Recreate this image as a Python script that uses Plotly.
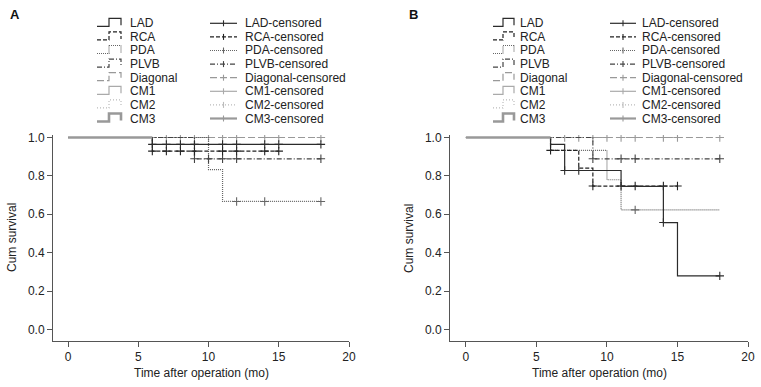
import plotly.graph_objects as go

W, H = 761, 387

# ---------------- data ----------------
groups = ["LAD", "RCA", "PDA", "PLVB", "Diagonal", "CM1", "CM2", "CM3"]
x_ticks = [0, 5, 10, 15, 20]
y_ticks = [0.0, 0.2, 0.4, 0.6, 0.8, 1.0]
x_title = "Time after operation (mo)"
y_title = "Cum survival"
panel_labels = ["A", "B"]

# Panel A  (time of each step, survival after step, censor times)
A_LAD_time = [0, 6, 18]
A_LAD_surv = [1.0, 0.964, 0.964]
A_LAD_cens = [6, 7, 8, 9, 11, 12, 14, 15, 18]
A_RCA_time = [0, 6, 15]
A_RCA_surv = [1.0, 0.929, 0.929]
A_RCA_cens = [6, 7, 8, 9, 11, 12, 14, 15]
A_PDA_time = [0, 10, 11, 18]
A_PDA_surv = [1.0, 0.833, 0.667, 0.667]
A_PDA_cens = [12, 14, 18]
A_PLVB_time = [0, 9, 18]
A_PLVB_surv = [1.0, 0.889, 0.889]
A_PLVB_cens = [9, 10, 11, 12, 18]
A_DIAG_time = [0, 18]
A_DIAG_surv = [1.0, 1.0]
A_DIAG_cens = [7, 8, 9, 10, 11, 12, 14, 15, 18]
A_CM3_time = [0, 6]
A_CM3_surv = [1.0, 1.0]

# Panel B
B_LAD_time = [0, 6, 7, 11, 14, 15, 18]
B_LAD_surv = [1.0, 0.964, 0.828, 0.745, 0.557, 0.279, 0.279]
B_LAD_cens = [7, 8, 14, 18]
B_RCA_time = [0, 6, 8, 9, 15]
B_RCA_surv = [1.0, 0.933, 0.840, 0.747, 0.747]
B_RCA_cens = [6, 9, 11, 12, 14, 15]
B_PDA_time = [0, 6, 10, 11, 18]
B_PDA_surv = [1.0, 0.933, 0.780, 0.623, 0.623]
B_PDA_cens = [12]
B_PLVB_time = [0, 9, 18]
B_PLVB_surv = [1.0, 0.889, 0.889]
B_PLVB_cens = [9, 11, 12, 18]
B_DIAG_time = [0, 18]
B_DIAG_surv = [1.0, 1.0]
B_DIAG_cens = [7, 8, 9, 10, 11, 12, 14, 15, 18]
B_CM3_time = [0, 6]
B_CM3_surv = [1.0, 1.0]

# ---------------- styles ----------------
STYLE = {
    "LAD": dict(color="#2b2b2b", width=1.2, dash="solid"),
    "RCA": dict(color="#222222", width=1.2, dash="4px,2px"),
    "PDA": dict(color="#666666", width=1.2, dash="1px,1px"),
    "PLVB": dict(color="#444444", width=1.2, dash="5px,2px,1px,2px"),
    "Diagonal": dict(color="#999999", width=1.2, dash="7px,3px"),
    "CM1": dict(color="#aaaaaa", width=1.2, dash="solid"),
    "CM2": dict(color="#bbbbbb", width=1.2, dash="1px,2px"),
    "CM3": dict(color="#999999", width=2.6, dash="solid"),
}
FONT = "Liberation Sans, Arial, sans-serif"
TXT = "#222222"


def surv_at(times, surv, t):
    v = surv[0]
    for ti, si in zip(times, surv):
        if ti <= t:
            v = si
    return v


fig = go.Figure()

panels = [
    ("x", "y", [
        ("Diagonal", A_DIAG_time, A_DIAG_surv, A_DIAG_cens),
        ("PDA", A_PDA_time, A_PDA_surv, A_PDA_cens),
        ("PLVB", A_PLVB_time, A_PLVB_surv, A_PLVB_cens),
        ("RCA", A_RCA_time, A_RCA_surv, A_RCA_cens),
        ("LAD", A_LAD_time, A_LAD_surv, A_LAD_cens),
        ("CM3", A_CM3_time, A_CM3_surv, []),
    ]),
    ("x2", "y2", [
        ("Diagonal", B_DIAG_time, B_DIAG_surv, B_DIAG_cens),
        ("PDA", B_PDA_time, B_PDA_surv, B_PDA_cens),
        ("PLVB", B_PLVB_time, B_PLVB_surv, B_PLVB_cens),
        ("RCA", B_RCA_time, B_RCA_surv, B_RCA_cens),
        ("LAD", B_LAD_time, B_LAD_surv, B_LAD_cens),
        ("CM3", B_CM3_time, B_CM3_surv, []),
    ]),
]

for xa, ya, curves in panels:
    for name, t, s, c in curves:
        st = STYLE[name]
        fig.add_trace(go.Scatter(x=t, y=s, mode="lines", line_shape="hv",
                                 line=dict(color=st["color"], width=st["width"], dash=st["dash"]),
                                 xaxis=xa, yaxis=ya, showlegend=False, hoverinfo="skip"))
        if c:
            fig.add_trace(go.Scatter(x=c, y=[surv_at(t, s, ci) for ci in c], mode="markers",
                                     marker=dict(symbol="cross-thin", size=6,
                                                 line=dict(width=1.1, color=st["color"])),
                                     xaxis=xa, yaxis=ya, showlegend=False, hoverinfo="skip"))

# ---------------- layout ----------------
def px(x):
    return x / W


def py(y):
    return 1 - y / H


plot_top, plot_bot = 135, 341
axA = (53, 349)
axB = (450, 748)

common_x = dict(range=[-1.07, 20], showline=True, linecolor="#555555", linewidth=1,
                ticks="outside", ticklen=5, tickcolor="#555555", tickvals=x_ticks,
                showgrid=False, zeroline=False, automargin=False,
                tickfont=dict(family=FONT, size=12, color=TXT))
common_y = dict(range=[-0.06, 1.013], showline=True, linecolor="#555555", linewidth=1,
                ticks="outside", ticklen=5, tickcolor="#555555", tickvals=y_ticks,
                tickformat=".1f", showgrid=False, zeroline=False, automargin=False,
                tickfont=dict(family=FONT, size=12, color=TXT))

fig.update_layout(
    width=W, height=H, autosize=False,
    margin=dict(l=0, r=0, t=0, b=0, pad=0),
    paper_bgcolor="white", plot_bgcolor="white",
    hovermode=False, dragmode=False,
    xaxis=dict(common_x, domain=[px(axA[0]), px(axA[1])], anchor="y"),
    yaxis=dict(common_y, domain=[py(plot_bot), py(plot_top)], anchor="x"),
    xaxis2=dict(common_x, domain=[px(axB[0]), px(axB[1])], anchor="y2", range=[-1.13, 20]),
    yaxis2=dict(common_y, domain=[py(plot_bot), py(plot_top)], anchor="x2"),
)

annotations = []
shapes = []

# axis titles and panel labels
for (x0, x1), lab, lx in [(axA, "A", 15), (axB, "B", 414)]:
    annotations.append(dict(text=x_title, x=px((x0 + x1) / 2), y=py(373), xref="paper", yref="paper",
                            showarrow=False, xanchor="center", yanchor="middle",
                            font=dict(family=FONT, size=12, color=TXT)))
    annotations.append(dict(text=y_title, x=px(x0 - 41), y=py((plot_top + plot_bot) / 2 + 0),
                            xref="paper", yref="paper", showarrow=False, textangle=-90,
                            xanchor="center", yanchor="middle",
                            font=dict(family=FONT, size=12, color=TXT)))
    annotations.append(dict(text="<b>%s</b>" % lab, x=px(lx), y=py(15), xref="paper", yref="paper",
                            showarrow=False, xanchor="center", yanchor="middle",
                            font=dict(family=FONT, size=13, color="#111111")))

# legends (drawn as shapes + text)
legend_cfg = [
    # glyph1 x0, step x, x1, text1 x, glyph2 x0, x1, text2 x
    (97, 109, 121, 128, 210, 237, 243),
    (493, 503, 514, 518, 610, 636, 640),
]
row_y0, row_dy = 23.3, 13.6
for g0, gs, g1, t1, c0, c1, t2 in legend_cfg:
    for k, name in enumerate(groups):
        st = STYLE[name]
        yc = row_y0 + row_dy * k
        yt, yb = yc - 5, yc + 3
        path = "M %f,%f L %f,%f L %f,%f L %f,%f L %f,%f" % (
            px(g0), py(yb), px(gs), py(yb), px(gs), py(yt), px(g1), py(yt), px(g1), py(yb - 1))
        shapes.append(dict(type="path", path=path, xref="paper", yref="paper",
                           line=dict(color=st["color"], width=st["width"], dash=st["dash"])))
        annotations.append(dict(text=name, x=px(t1), y=py(yc), xref="paper", yref="paper",
                                showarrow=False, xanchor="left", yanchor="middle",
                                font=dict(family=FONT, size=12, color=TXT)))
        # censored glyph
        shapes.append(dict(type="line", x0=px(c0), x1=px(c1), y0=py(yc), y1=py(yc),
                           xref="paper", yref="paper",
                           line=dict(color=st["color"], width=min(st["width"], 2.2), dash=st["dash"])))
        cm = (c0 + c1) / 2
        shapes.append(dict(type="line", x0=px(cm), x1=px(cm), y0=py(yc - 3), y1=py(yc + 3),
                           xref="paper", yref="paper",
                           line=dict(color=st["color"], width=1.1)))
        annotations.append(dict(text=name + "-censored", x=px(t2), y=py(yc), xref="paper", yref="paper",
                                showarrow=False, xanchor="left", yanchor="middle",
                                font=dict(family=FONT, size=12, color=TXT)))

fig.update_layout(annotations=annotations, shapes=shapes)
fig.write_html("out.html", config={"displayModeBar": False, "staticPlot": True},
               post_script="document.body.style.margin='0';document.body.style.overflow='hidden';")
